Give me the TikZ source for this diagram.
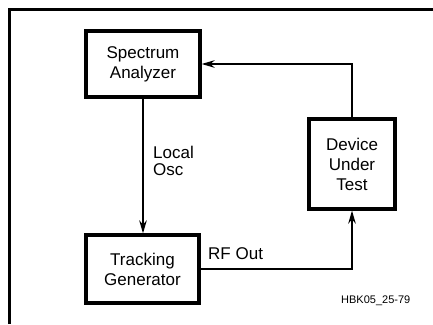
\documentclass[tikz,border=0pt]{standalone}
\usepackage{fontspec}
\setmainfont{Liberation Sans}
\usetikzlibrary{arrows.meta}
\begin{document}
\begin{tikzpicture}[x=1pt,y=-1pt,
  blk/.style={draw, line width=3.2pt, align=center, font=\fontsize{17}{20}\selectfont, inner sep=0pt},
  conn/.style={line width=2.1pt, -{Stealth[length=13pt,width=7.5pt]}},
  lbl/.style={font=\fontsize{17}{17}\selectfont, inner sep=0pt}]
\useasboundingbox (0,0) rectangle (433,324);
\draw[line width=3pt] (9,324) -- (9,9) -- (433,9);
\node[blk, minimum width=114pt, minimum height=66pt] (sa) at (143,64) {Spectrum\\Analyzer};
\node[blk, minimum width=113pt, minimum height=68pt] (tg) at (142.5,269) {Tracking\\Generator};
\node[blk, minimum width=86pt, minimum height=90pt] (dut) at (352,164) {Device\\Under\\Test};
\coordinate (c1) at (dut.north |- sa.east);
\coordinate (c2) at (dut.south |- tg.east);
\draw[conn] (sa.south -| 143,0) -- (tg.north -| 143,0);
\draw[conn] (dut.north) -- (c1) -- (sa.east);
\draw[conn] (tg.east) -- (c2) -- (dut.south);
\node[lbl, anchor=north west, align=left] (lo) at (153,146) {Local\\Osc};
\node[lbl, anchor=base west] (rf) at (208,259) {RF Out};
\node[font=\fontsize{11}{13}\selectfont, anchor=base west, inner sep=0pt] (id) at (341,303) {HBK05\_25-79};
\end{tikzpicture}
\end{document}
